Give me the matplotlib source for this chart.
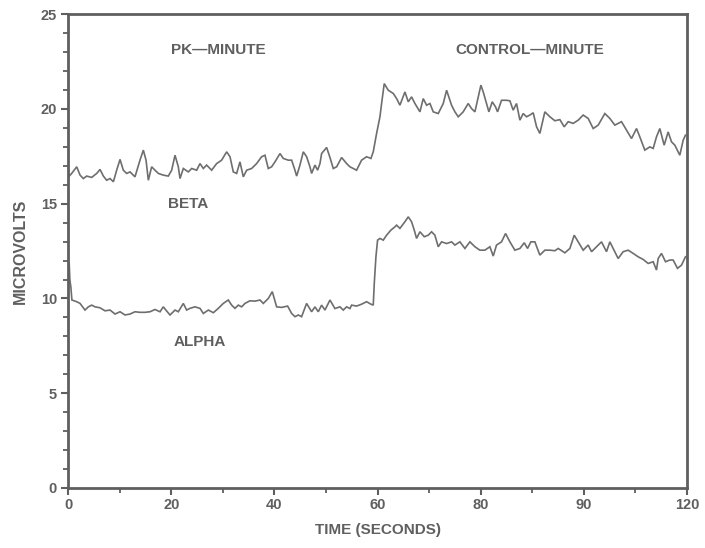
import matplotlib
matplotlib.use("Agg")
import matplotlib.pyplot as plt
from matplotlib.ticker import MultipleLocator

plt.rcParams['font.family'] = ['Liberation Sans', 'DejaVu Sans']

# ---- data ----
beta_t = [0.0, 0.1, 0.71, 1.68, 2.33, 2.97, 3.62, 4.59, 5.56, 6.20, 6.85, 7.49, 8.14, 8.79,
          9.43, 10.08, 10.72, 11.37, 12.02, 12.98, 13.95, 14.60, 15.12, 15.57, 16.21, 16.86,
          17.51, 18.47, 19.44, 20.09, 20.74, 21.38, 21.71, 22.35, 23.32, 23.97, 24.94, 25.58,
          26.23, 26.87, 27.84, 28.81, 29.78, 30.75, 31.40, 32.04, 32.69, 33.33, 33.98, 34.63,
          35.59, 36.56, 37.53, 38.18, 38.82, 39.47, 40.12, 41.09, 41.73, 42.70, 43.35, 43.99,
          44.32, 44.96, 45.61, 46.25, 46.90, 47.22, 47.87, 48.38, 48.84, 49.16, 50.13, 50.78,
          51.42, 52.07, 53.04, 54.01, 54.65, 55.30, 55.94, 56.91, 57.88, 58.72, 59.17, 59.82,
          60.47, 60.79, 61.30, 62.08, 63.05, 63.70, 64.34, 65.31, 65.96, 66.60, 67.25, 68.22,
          68.86, 69.51, 70.16, 70.80, 71.77, 72.74, 73.39, 74.35, 75.00, 75.65, 76.61, 77.58,
          78.23, 78.88, 79.52, 80.04, 80.49, 81.14, 81.59, 82.24, 82.88, 83.27, 84.04, 85.01,
          85.66, 86.30, 86.95, 87.60, 88.24, 88.89, 89.53, 90.18, 90.83, 91.47, 92.44, 93.41,
          94.38, 95.35, 96.19, 96.96, 97.93, 98.90, 99.87, 100.84, 101.81, 102.78, 104.07,
          105.04, 106.01, 107.30, 108.27, 109.24, 110.21, 110.85, 111.82, 112.79, 113.44,
          114.08, 114.73, 115.57, 116.34, 116.99, 117.64, 118.28, 118.60, 119.25, 119.70]
beta_v = [17.47, 16.42, 16.60, 16.95, 16.51, 16.33, 16.46, 16.39, 16.60, 16.81, 16.46, 16.24,
          16.33, 16.16, 16.77, 17.34, 16.77, 16.60, 16.68, 16.42, 17.30, 17.83, 17.30, 16.24,
          16.95, 16.77, 16.60, 16.51, 16.46, 16.77, 17.56, 16.95, 16.33, 16.86, 16.68, 16.86,
          16.77, 17.12, 16.86, 17.04, 16.77, 17.12, 17.30, 17.74, 17.48, 16.68, 16.60, 17.21,
          16.42, 16.77, 16.86, 17.12, 17.48, 17.56, 16.86, 16.95, 17.21, 17.65, 17.39, 17.30,
          17.30, 16.77, 16.46, 17.04, 17.74, 17.48, 16.95, 16.60, 17.04, 16.77, 17.12, 17.65,
          17.97, 17.44, 16.86, 16.95, 17.44, 17.12, 16.95, 16.86, 16.77, 17.30, 17.48, 17.39,
          17.74, 18.71, 19.59, 20.29, 21.34, 20.99, 20.82, 20.55, 20.20, 20.90, 20.38, 20.64,
          20.29, 19.85, 20.55, 20.20, 20.29, 19.85, 19.76, 20.29, 20.99, 20.20, 19.85, 19.59,
          19.85, 20.29, 20.02, 19.85, 20.64, 21.26, 20.90, 20.29, 19.85, 20.38, 20.11, 19.85,
          20.46, 20.46, 20.43, 19.94, 20.29, 19.41, 19.76, 19.59, 19.68, 19.80, 19.06, 18.71,
          19.85, 19.59, 19.38, 19.44, 19.06, 19.33, 19.24, 19.41, 19.68, 19.50, 18.97, 19.15,
          19.76, 19.50, 19.15, 19.33, 18.88, 18.44, 18.97, 18.53, 17.83, 18.00, 17.92, 18.53,
          18.97, 18.09, 18.79, 18.27, 18.09, 17.74, 17.56, 18.35, 18.62]

alpha_t = [0.0, 0.12, 0.22, 0.35, 0.55, 0.75, 1.68, 2.33, 3.29, 3.94, 4.59, 5.23, 6.20, 7.17,
           8.14, 9.11, 10.08, 11.05, 12.02, 12.98, 13.95, 14.92, 15.89, 16.86, 17.83, 18.47,
           19.12, 19.77, 20.74, 21.38, 22.35, 23.00, 23.64, 24.61, 25.58, 26.23, 27.20, 28.17,
           29.13, 30.10, 31.07, 31.72, 32.36, 33.01, 33.66, 34.30, 35.27, 36.24, 37.21, 37.86,
           38.82, 39.60, 40.44, 41.41, 42.57, 43.35, 43.99, 44.64, 45.28, 46.25, 47.22, 47.87,
           48.51, 49.16, 49.81, 50.78, 51.74, 52.71, 53.36, 54.01, 54.65, 54.97, 55.94, 56.91,
           57.88, 58.72, 59.17, 59.37, 59.69, 60.01, 60.47, 61.11, 61.76, 62.60, 63.37, 63.70,
           64.34, 65.31, 65.96, 66.60, 67.12, 67.57, 68.22, 69.06, 69.83, 70.48, 71.12, 71.77,
           72.42, 73.39, 74.35, 75.00, 75.97, 76.94, 77.91, 78.88, 79.84, 80.81, 81.78, 82.43,
           83.07, 84.04, 84.82, 85.66, 86.63, 87.60, 88.44, 89.08, 89.73, 90.50, 91.47, 92.44,
           93.41, 94.38, 95.03, 96.32, 97.29, 98.13, 98.90, 99.87, 100.84, 101.49, 102.45,
           103.42, 104.39, 105.04, 105.68, 106.65, 107.62, 108.59, 109.56, 110.53, 111.50,
           112.47, 113.44, 114.08, 114.41, 115.05, 115.83, 116.67, 117.31, 118.15, 118.93,
           119.70]
alpha_v = [12.40, 11.30, 11.90, 11.00, 10.60, 9.92, 9.83, 9.74, 9.39, 9.56, 9.65, 9.56, 9.51,
           9.35, 9.39, 9.18, 9.30, 9.13, 9.18, 9.30, 9.27, 9.27, 9.30, 9.42, 9.30, 9.56, 9.34,
           9.13, 9.39, 9.30, 9.74, 9.39, 9.48, 9.56, 9.48, 9.21, 9.39, 9.25, 9.48, 9.74, 9.92,
           9.65, 9.48, 9.65, 9.56, 9.74, 9.88, 9.86, 9.92, 9.74, 10.00, 10.36, 9.56, 9.53, 9.60,
           9.21, 9.04, 9.13, 9.04, 9.74, 9.30, 9.56, 9.30, 9.65, 9.39, 9.92, 9.47, 9.56, 9.39,
           9.56, 9.47, 9.65, 9.60, 9.70, 9.83, 9.70, 9.65, 10.80, 12.20, 13.08, 13.17, 13.08,
           13.34, 13.61, 13.78, 13.87, 13.70, 14.05, 14.31, 14.05, 13.61, 13.17, 13.52, 13.26,
           13.34, 13.52, 13.34, 12.73, 12.99, 12.90, 12.99, 12.82, 12.99, 12.64, 12.99, 12.73,
           12.55, 12.55, 12.73, 12.24, 12.82, 12.99, 13.43, 12.99, 12.55, 12.64, 12.94, 12.64,
           12.99, 12.99, 12.29, 12.55, 12.55, 12.52, 12.64, 12.41, 12.64, 13.34, 12.99, 12.55,
           12.82, 12.47, 12.73, 12.99, 12.47, 12.99, 12.64, 12.11, 12.47, 12.55, 12.38, 12.20,
           12.06, 11.85, 11.94, 11.50, 12.11, 12.38, 11.94, 12.03, 12.03, 11.59, 11.76, 12.20]

x_tick_values = [0, 20, 40, 60, 80, 100, 120]
x_tick_labels = ["0", "20", "40", "60", "80", "90", "120"]
y_tick_values = [0, 5, 10, 15, 20, 25]
y_tick_labels = ["0", "5", "10", "15", "20", "25"]

# ---- styling ----
ink = '#5f5f5f'
line_c = '#6e6e6e'

fig = plt.figure(figsize=(7.05, 5.48), dpi=100)
ax = fig.add_axes([0.0965, 0.1095, 0.878, 0.8645])

ax.plot(beta_t, beta_v, color=line_c, lw=1.2, solid_joinstyle='miter')
ax.plot(alpha_t, alpha_v, color=line_c, lw=1.2, solid_joinstyle='miter')

ax.set_xlim(0, 120)
ax.set_ylim(0, 25)

ax.set_xticks(x_tick_values)
ax.set_xticklabels(x_tick_labels)
ax.set_yticks(y_tick_values)
ax.set_yticklabels(y_tick_labels)
ax.xaxis.set_minor_locator(MultipleLocator(10))
ax.yaxis.set_minor_locator(MultipleLocator(1))

for s in ax.spines.values():
    s.set_color(ink)
    s.set_linewidth(2.0)

ax.tick_params(axis='both', which='major', direction='out', length=5, width=1.5,
               color=ink, labelcolor=ink, labelsize=10.5)
ax.tick_params(axis='both', which='minor', direction='out', length=3.5, width=1.3,
               color=ink)
ax.tick_params(axis='x', which='major', pad=2)
ax.tick_params(axis='y', which='major', pad=3)
for lab in ax.get_xticklabels() + ax.get_yticklabels():
    lab.set_fontweight('bold')

ax.set_xlabel('TIME (SECONDS)', color=ink, fontsize=11, fontweight='bold', labelpad=8)
ax.set_ylabel('MICROVOLTS', color=ink, fontsize=11.5, fontweight='bold', labelpad=9)

txt_kw = dict(color=ink, fontsize=11, fontweight='bold', ha='center', va='center')
ax.text(29.1, 23.1, 'PK\u2014MINUTE', **txt_kw)
ax.text(89.5, 23.1, 'CONTROL\u2014MINUTE', **txt_kw)
ax.text(23.3, 15.0, 'BETA', **txt_kw)
ax.text(25.6, 7.7, 'ALPHA', **txt_kw)

fig.savefig('out.png', dpi=100)
